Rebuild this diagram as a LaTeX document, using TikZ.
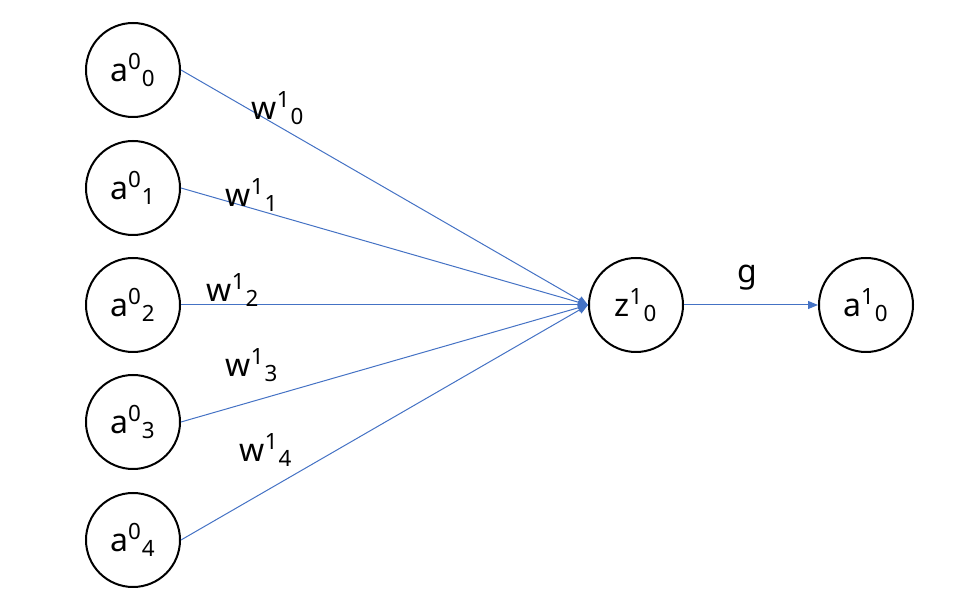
\documentclass[tikz,border=0pt]{standalone}
\usepackage{fontspec}
\setmainfont{Noto Sans}
\usetikzlibrary{arrows.meta,positioning}
\definecolor{edgeblue}{HTML}{4472C4}
\newcommand{\nv}[3]{#1\textsuperscript{#2}\textsubscript{#3}}

\begin{document}
\begin{tikzpicture}[x=0.5pt,y=0.5pt,>={Triangle[length=5pt,width=4pt]},
    every node/.style={font=\fontsize{16}{18}\selectfont},
    unit/.style={draw,circle,line width=1pt,minimum size=47pt,inner sep=0pt},
    wire/.style={->,edgeblue,line width=0.5pt}]
  \useasboundingbox (0,0) rectangle (969,604);
  % input layer
  \foreach \i/\y in {0/534,1/416,2/299,3/182,4/64}
    \node[unit] (a\i) at (133,\y) {\nv{a}{0}{\i}};
  \node[unit] (z) at (636,299) {\nv{z}{1}{0}};
  \node[unit] (out) at (866,299) {\nv{a}{1}{0}};
  \foreach \i in {0,...,4}
    \draw[wire] (a\i.east) -- (z.west);
  \draw[wire] (z) -- (out);
  % weights
  \foreach \i/\x/\y in {0/278/496,1/252/409,2/233/314,3/252/239,4/266/154}
    \node (w\i) at (\x,\y) {\nv{w}{1}{\i}};
  \node (g) at (747,326) {g};
\end{tikzpicture}
\end{document}
